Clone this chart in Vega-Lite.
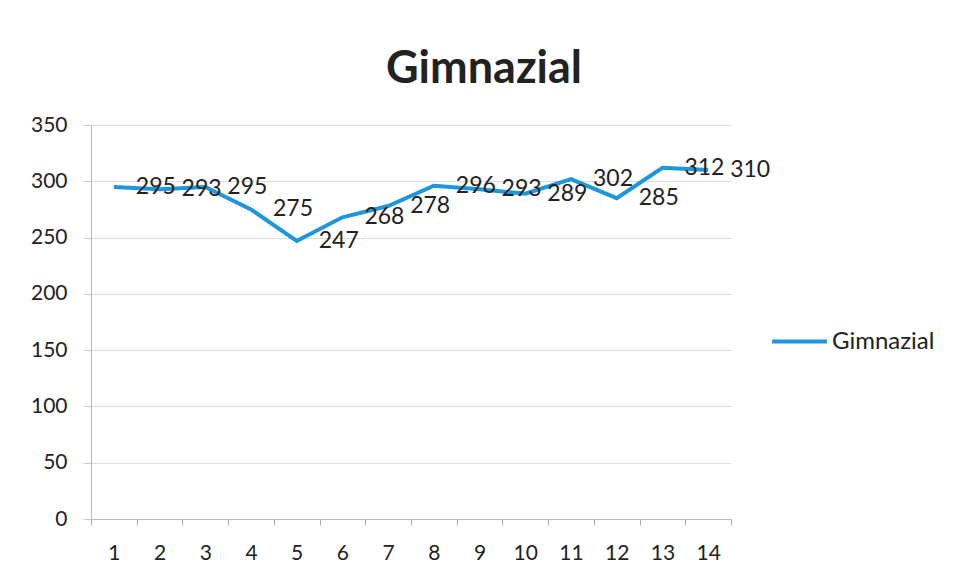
{
  "$schema": "https://vega.github.io/schema/vega-lite/v6.json",
  "autosize": "none",
  "width": 640,
  "height": 394,
  "padding": {"left": 91, "top": 125, "right": 223, "bottom": 59},
  "background": "white",
  "title": {
    "text": "Gimnazial",
    "font": "Lato",
    "fontSize": 45,
    "fontWeight": "bold",
    "color": "#222222",
    "anchor": "middle",
    "dx": 73,
    "offset": 22
  },
  "data": {
    "values": [
      {"x": 1, "v": 295, "s": "Gimnazial"},
      {"x": 2, "v": 293, "s": "Gimnazial"},
      {"x": 3, "v": 295, "s": "Gimnazial"},
      {"x": 4, "v": 275, "s": "Gimnazial"},
      {"x": 5, "v": 247, "s": "Gimnazial"},
      {"x": 6, "v": 268, "s": "Gimnazial"},
      {"x": 7, "v": 278, "s": "Gimnazial"},
      {"x": 8, "v": 296, "s": "Gimnazial"},
      {"x": 9, "v": 293, "s": "Gimnazial"},
      {"x": 10, "v": 289, "s": "Gimnazial"},
      {"x": 11, "v": 302, "s": "Gimnazial"},
      {"x": 12, "v": 285, "s": "Gimnazial"},
      {"x": 13, "v": 312, "s": "Gimnazial"},
      {"x": 14, "v": 310, "s": "Gimnazial"}
    ]
  },
  "encoding": {
    "x": {
      "field": "x",
      "type": "ordinal",
      "title": null,
      "scale": {"paddingInner": 0, "paddingOuter": 0},
      "axis": {
        "labelAngle": 0,
        "labelFont": "Lato",
        "labelFontSize": 21,
        "labelColor": "#222222",
        "labelPadding": 17,
        "tickBand": "extent",
        "tickSize": 6,
        "tickColor": "#aaaaaa",
        "domainColor": "#bbbbbb",
        "grid": false
      }
    },
    "y": {
      "field": "v",
      "type": "quantitative",
      "title": null,
      "scale": {"domain": [0, 350], "nice": false},
      "axis": {
        "values": [0, 50, 100, 150, 200, 250, 300, 350],
        "labelFont": "Lato",
        "labelFontSize": 21,
        "labelColor": "#222222",
        "labelPadding": 16,
        "tickSize": 8,
        "tickColor": "#cccccc",
        "domainColor": "#bbbbbb",
        "gridColor": "#dddddd"
      }
    }
  },
  "layer": [
    {
      "mark": {"type": "line", "strokeWidth": 4, "color": "#1E96DC"},
      "encoding": {
        "color": {
          "field": "s",
          "type": "nominal",
          "title": null,
          "scale": {"range": ["#1E96DC"]},
          "legend": {
            "orient": "none",
            "legendX": 679,
            "legendY": 187,
            "symbolType": "stroke",
            "symbolSize": 3000,
            "symbolStrokeWidth": 4,
            "labelFont": "Lato",
            "labelFontSize": 24,
            "labelColor": "#222222",
            "labelOffset": 3
          }
        }
      }
    },
    {
      "mark": {"type": "text", "align": "left", "baseline": "middle", "dx": 22, "font": "Lato", "fontSize": 23, "color": "#222222"},
      "encoding": {"text": {"field": "v", "type": "quantitative"}}
    }
  ],
  "config": {"view": {"stroke": null}}
}
